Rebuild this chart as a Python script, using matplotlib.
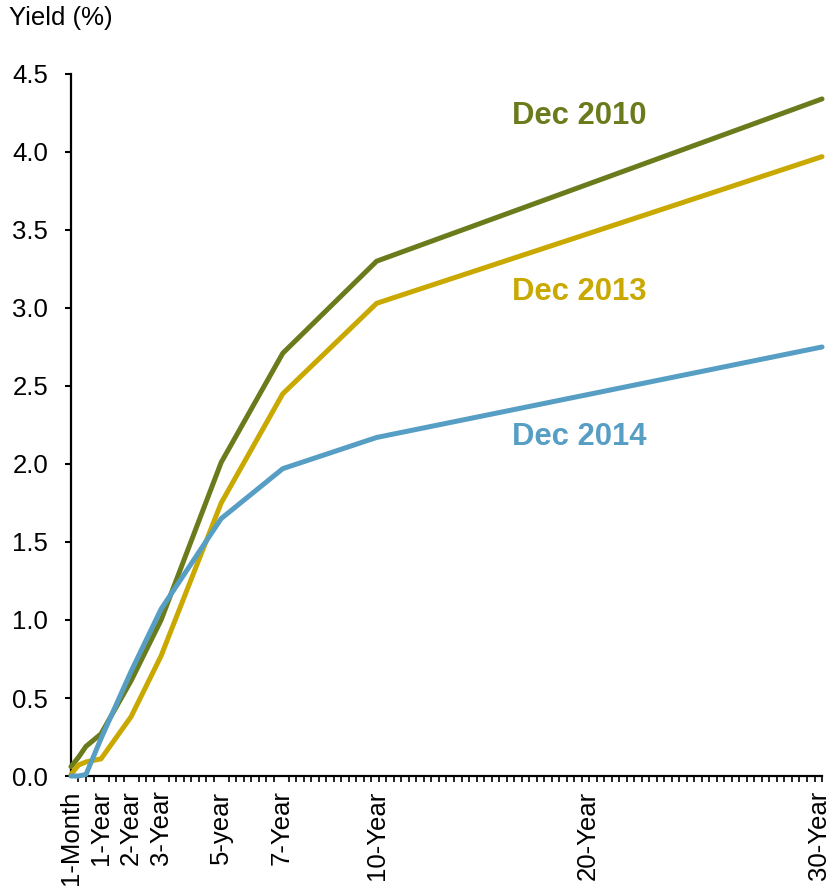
import matplotlib
matplotlib.use("Agg")
import matplotlib.pyplot as plt
from matplotlib.transforms import ScaledTranslation

plt.rcParams["font.family"] = ["Liberation Sans", "DejaVu Sans"]

# Evenly spaced category slots along the maturity axis
n_slots = 101
tick_labels = ["1-Month", "1-Year", "2-Year", "3-Year", "5-year", "7-Year",
               "10-Year", "20-Year", "30-Year"]
tick_slots = [0, 4, 8, 12, 20, 28, 40.7, 68.8, 99.6]

# Maturities with observed yields: 1M, 3M, 6M, 1Y, 2Y, 3Y, 5Y, 7Y, 10Y, 30Y
maturity_slots = [0, 1, 2, 4, 8, 12, 20, 28.2, 40.7, 100]
dec_2010 = [0.06, 0.12, 0.19, 0.27, 0.61, 1.00, 2.01, 2.71, 3.30, 4.34]
dec_2013 = [0.01, 0.07, 0.09, 0.11, 0.38, 0.77, 1.75, 2.45, 3.03, 3.97]
dec_2014 = [0.00, 0.00, 0.01, 0.24, 0.67, 1.07, 1.65, 1.97, 2.17, 2.75]

series_names = ["Dec 2010", "Dec 2013", "Dec 2014"]
series_values = [dec_2010, dec_2013, dec_2014]
colors = ["#6A7B1C", "#C9A800", "#579EC5"]
label_xy = [(58.7, 4.23), (58.7, 3.10), (58.7, 2.17)]

fig = plt.figure(figsize=(8.32, 8.89), dpi=100)
ax = fig.add_axes([0.0853, 0.1271, 0.9027, 0.7897])

for name, vals, col, (lx, ly) in zip(series_names, series_values, colors, label_xy):
    ax.plot(maturity_slots, vals, color=col, lw=3.6, solid_joinstyle="round",
            solid_capstyle="round", clip_on=False, zorder=3)
    ax.text(lx, ly, name, color=col, fontsize=22.3, fontweight="bold",
            va="center", ha="left")

ax.set_xlim(0, n_slots - 1)
ax.set_ylim(0, 4.5)
ax.set_yticks([0, 0.5, 1.0, 1.5, 2.0, 2.5, 3.0, 3.5, 4.0, 4.5])
ax.set_yticklabels([f"{v:.1f}" for v in ax.get_yticks()], fontsize=18.5)

# Small tick at every slot; maturity names as labels without their own tick
ax.set_xticks(range(n_slots), minor=True)
ax.set_xticks(tick_slots)
ax.set_xticklabels(tick_labels, rotation=90, fontsize=18.5, va="top", ha="center")
shift = ScaledTranslation(2.5 / 100, 0, fig.dpi_scale_trans)
for lab in ax.get_xticklabels():
    lab.set_transform(lab.get_transform() + shift)

for side in ("top", "right"):
    ax.spines[side].set_visible(False)
for side in ("left", "bottom"):
    ax.spines[side].set_linewidth(1.6)
    ax.spines[side].set_color("black")

ax.tick_params(axis="y", direction="out", length=4.5, width=1.5, pad=12)
ax.tick_params(axis="x", which="minor", direction="out", length=4, width=1.2)
ax.tick_params(axis="x", which="major", direction="out", length=0, pad=10.5)

fig.text(0.011, 1 - 25 / 889, "Yield (%)", fontsize=18.5, va="baseline", ha="left")

fig.savefig("out.png", dpi=100)
